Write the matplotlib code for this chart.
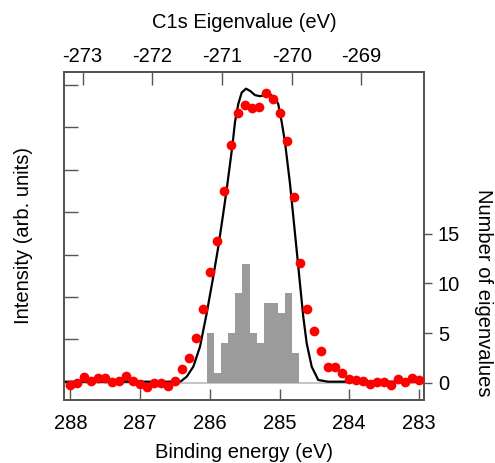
import numpy as np
import matplotlib
matplotlib.use("Agg")
import matplotlib.pyplot as plt

plt.rcParams['font.family'] = ['Liberation Sans', 'DejaVu Sans']
plt.rcParams['axes.unicode_minus'] = False

# ---- data ----
# measured XPS spectrum (binding energy grid 288 -> 283 eV, step 0.1 eV)
exp_energy = np.linspace(288.0, 283.0, 51)
exp_intensity = [-0.08, -0.04, 0.10, 0.02, 0.08, 0.09, 0.00, 0.02, 0.13, 0.02,
                 -0.05, -0.12, -0.02, -0.04, -0.10, 0.02, 0.29, 0.57, 1.02, 1.71,
                 2.60, 3.33, 4.50, 5.58, 6.35, 6.54, 6.46, 6.49, 6.82, 6.68,
                 6.35, 5.69, 4.36, 2.79, 1.72, 1.20, 0.73, 0.35, 0.34, 0.21,
                 0.06, 0.04, 0.02, -0.05, 0.00, -0.01, -0.07, 0.06, 0.00, 0.09, 0.04]

# simulated (broadened) spectrum
sim_energy = [288.1, 286.501, 286.415, 286.333, 286.238, 286.142, 286.046, 285.960,
              285.879, 285.808, 285.762, 285.676, 285.640, 285.593, 285.544, 285.482,
              285.418, 285.353, 285.281, 285.209, 285.138, 285.066, 285.019, 284.970,
              284.923, 284.851, 284.803, 284.755, 284.708, 284.660, 284.611, 284.539,
              284.445, 284.306, 282.9]
sim_intensity = [0.0, 0.0, 0.01, 0.118, 0.354, 0.825, 1.613, 2.399,
                 3.184, 3.972, 4.498, 5.583, 6.125, 6.550, 6.821, 6.915,
                 6.856, 6.762, 6.738, 6.762, 6.778, 6.703, 6.550, 6.132,
                 5.660, 4.679, 3.892, 3.106, 2.321, 1.533, 0.906, 0.354,
                 0.04, 0.0, 0.0]

# histogram of C1s eigenvalues (binding-energy bins)
hist_edges = np.linspace(286.04, 284.72, 14)
hist_counts = [5, 1, 4, 5, 9, 12, 5, 4, 8, 8, 7, 9, 3]

eig_offset = 14.825  # eigenvalue = offset - binding energy
top_ticks = [-273, -272, -271, -270, -269]
bottom_ticks = [288, 287, 286, 285, 284, 283]
right_ticks = [0, 5, 10, 15]

# ---- figure ----
fig = plt.figure(figsize=(4.95, 4.63), dpi=100)
ax = fig.add_axes([64/495, 63/463, 360/495, 328/463])
ax2 = ax.twinx()

spine_col = '#555555'
fs = 14.5

# histogram on right axis
ax2.axhline(0, color='#c0c0c0', lw=1.3, zorder=1)
ax2.bar(hist_edges[:-1], hist_counts, width=np.diff(hist_edges), align='edge',
        color='#9b9b9b', edgecolor='none', zorder=2)
ax2.set_ylim(-1.74, 31.29)
ax2.set_yticks(right_ticks)
ax2.tick_params(axis='y', direction='out', length=6, width=1, color=spine_col,
                labelsize=fs, pad=4)
ax2.set_ylabel('Number of eigenvalues', fontsize=fs, rotation=270,
               va='center', ha='center')
ax2.yaxis.set_label_coords(1.164, 0.326)

# spectra on left axis
ax.set_zorder(ax2.get_zorder() + 1)
ax.patch.set_visible(False)
ax.plot(sim_energy, sim_intensity, color='black', lw=1.6, zorder=2)
ax.plot(exp_energy, exp_intensity, 'o', color='#ff0000', ms=7, mec='none', zorder=3)
ax.set_xlim(288.093, 282.928)
ax.set_ylim(-0.432, 7.308)
ax.set_xticks(bottom_ticks)
ax.set_yticks(range(0, 8))
ax.set_yticklabels([])
ax.tick_params(axis='x', direction='in', length=8, width=1, color=spine_col,
               labelsize=fs, pad=10)
ax.tick_params(axis='y', direction='in', length=10, width=1, color=spine_col)
ax.set_xlabel('Binding energy (eV)', fontsize=fs, labelpad=7)
ax.set_ylabel('Intensity (arb. units)', fontsize=fs, labelpad=19)

sec = ax.secondary_xaxis('top', functions=(lambda b: eig_offset - b,
                                            lambda e: eig_offset - e))
sec.set_xticks(top_ticks)
sec.tick_params(axis='x', direction='in', length=9, width=1, color=spine_col,
                labelsize=fs, pad=4)
sec.set_xlabel('C1s Eigenvalue (eV)', fontsize=fs, labelpad=14)

for a in (ax, ax2):
    for s in a.spines.values():
        s.set_color(spine_col)
        s.set_linewidth(1.3)
for s in sec.spines.values():
    s.set_color(spine_col)
    s.set_linewidth(1.3)

fig.savefig('out.png', dpi=100)
